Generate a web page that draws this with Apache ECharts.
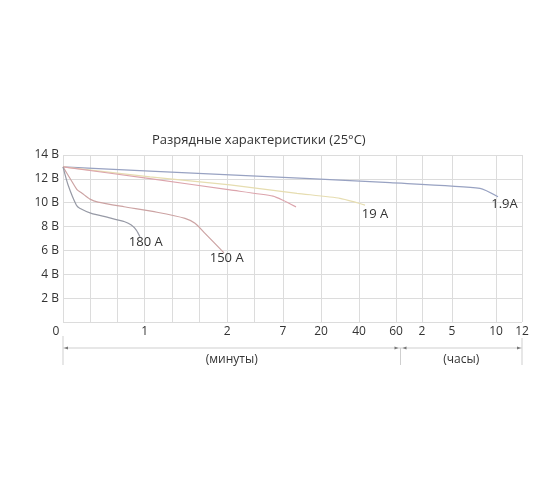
<!DOCTYPE html>
<html lang="ru" style="height: 100%">

<head>
  <meta charset="utf-8">
</head>

<body style="height: 100%; margin: 0; background: #fff">
  <div id="container" style="height: 100%"></div>
  <script type="text/javascript" src="https://fastly.jsdelivr.net/npm/echarts@6.0.0/dist/echarts.min.js"></script>
  <script type="text/javascript">
    // x axis is a hand-made scale: positions of the vertical grid lines and their labels
    const gridPos = [0, 27.3, 54.3, 81.7, 109.3, 136.7, 164.3, 191.5, 220, 258, 296, 333, 359, 389, 433, 459];
    const gridLabels = ['0', '', '', '1', '', '', '2', '', '7', '20', '40', '60', '2', '5', '10', '12'];
    const hoursStart = 337.5;   // where "(минуты)" ends and "(часы)" begins

    // discharge curves: [axis position, volts]
    const c19 = [[0, 13.0], [87, 12.64], [247, 12.02], [327, 11.68], [417, 11.21], [435, 10.5]];
    const c190 = [[0, 13.0], [87, 12.16], [167, 11.49], [234, 10.79], [277, 10.37], [294, 10.0], [302, 9.8]];
    const cMid = [[0, 13.0], [87, 12.02], [167, 11.07], [210, 10.55], [220, 10.2], [233, 9.65]];
    const c150 = [[0, 13.0], [8, 11.9], [14, 11.1], [19, 10.8], [27, 10.3], [35, 10.05], [61, 9.66], [94, 9.2],
      [122, 8.69], [132, 8.27], [142, 7.43], [161, 5.8]];
    const c180 = [[0, 13.0], [5, 11.5], [13.3, 9.8], [16.7, 9.53], [28.3, 9.11], [45, 8.77], [61.7, 8.4],
      [68.3, 8.13], [73.3, 7.71], [77, 7.14]];

    const curves = [c19, c190, cMid, c150, c180];
    const curveNames = ['1.9A', '19 A', '', '150 A', '180 A'];
    const curveColors = ['#98a2c2', '#e6ddb0', '#dca4ac', '#cca3a3', '#979aa6'];
    const labelAt = [[441.5, 9.89], [312, 9.05], null, [163.7, 5.33], [82.8, 6.66]];

    const font = '"Open Sans", "DejaVu Sans", sans-serif';
    const gridColor = '#dcdcdc';

    var dom = document.getElementById('container');
    var myChart = echarts.init(dom, null, { renderer: 'canvas' });

    const series = curves.map((data, i) => {
      const s = {
        name: curveNames[i] || 'c' + i,
        type: 'line',
        data: data,
        showSymbol: false,
        smooth: 0.2,
        z: 3,
        lineStyle: { color: curveColors[i], width: 1.2 },
        silent: true,
        animation: false
      };
      if (labelAt[i]) {
        s.markPoint = {
          symbol: 'circle',
          symbolSize: 1,
          itemStyle: { color: 'rgba(0,0,0,0)' },
          silent: true,
          animation: false,
          label: {
            show: true,
            position: 'inside',
            formatter: curveNames[i],
            color: '#333',
            fontSize: 13,
            fontFamily: font
          },
          data: [{ coord: labelAt[i] }]
        };
      }
      if (i === 0) {
        s.markLine = {
          symbol: ['none', 'none'],
          silent: true,
          animation: false,
          z: 1,
          label: { show: false },
          lineStyle: { color: gridColor, type: 'solid', width: 1 },
          data: gridPos.map(v => ({ xAxis: v }))
        };
      }
      return s;
    });

    var option = {
      backgroundColor: '#fff',
      title: {
        text: 'Разрядные характеристики (25°C)',
        left: 152,
        top: 134,
        padding: 0,
        textStyle: { fontFamily: font, fontSize: 13, fontWeight: 'normal', color: '#333' }
      },
      grid: { left: 63, right: 38, top: 155, bottom: 182 },
      xAxis: {
        type: 'value',
        min: 0,
        max: 459,
        axisLine: { show: false },
        axisTick: { show: false },
        splitLine: { show: false },
        axisLabel: {
          customValues: gridPos.filter((v, i) => gridLabels[i] !== ''),
          margin: 4,
          color: '#333',
          fontSize: 12,
          fontFamily: font,
          formatter: v => {
            const t = gridLabels[gridPos.indexOf(v)];
            return v === 0 ? '{z|' + t + '}' : t;
          },
          rich: { z: { padding: [0, 14, 4, 0], color: '#333', fontSize: 12, fontFamily: font } }
        }
      },
      yAxis: {
        type: 'value',
        min: 0,
        max: 14,
        interval: 2,
        axisLine: { show: false },
        axisTick: { show: false },
        splitLine: { lineStyle: { color: gridColor, width: 1 } },
        axisLabel: {
          margin: 4,
          color: '#333',
          fontSize: 12,
          fontFamily: font,
          formatter: v => (v === 0 ? '' : v + ' В')
        }
      },
      series
    };

    myChart.setOption(option);

    // bracket under the axis: "(минуты)" and "(часы)"
    function drawBrackets() {
      const x0 = myChart.convertToPixel({ xAxisIndex: 0 }, 0);
      const xm = myChart.convertToPixel({ xAxisIndex: 0 }, hoursStart);
      const x1 = myChart.convertToPixel({ xAxisIndex: 0 }, gridPos[gridPos.length - 1]);
      const yb = myChart.convertToPixel({ yAxisIndex: 0 }, 0) + 26;
      const lineStyle = { stroke: '#cfcfcf', lineWidth: 1 };
      const arrowStyle = { fill: '#777' };
      const arrow = (x, dir) => ({
        type: 'polygon',
        silent: true,
        shape: { points: [[x, yb], [x - dir * 4, yb - 1.5], [x - dir * 4, yb + 1.5]] },
        style: arrowStyle
      });
      myChart.setOption({
        graphic: [
          { type: 'line', silent: true, shape: { x1: x0, y1: yb, x2: x1, y2: yb }, style: lineStyle },
          { type: 'line', silent: true, shape: { x1: x0, y1: yb - 12, x2: x0, y2: yb + 17 }, style: lineStyle },
          { type: 'line', silent: true, shape: { x1: xm, y1: yb, x2: xm, y2: yb + 17 }, style: lineStyle },
          { type: 'line', silent: true, shape: { x1: x1, y1: yb - 10, x2: x1, y2: yb + 17 }, style: lineStyle },
          arrow(x0 + 1, -1), arrow(xm - 2, 1), arrow(xm + 2, -1), arrow(x1 - 1, 1),
          {
            type: 'text', silent: true,
            style: {
              text: '(минуты)', x: (x0 + xm) / 2, y: yb + 12, align: 'center', verticalAlign: 'middle',
              fill: '#333', fontSize: 12, fontFamily: font
            }
          },
          {
            type: 'text', silent: true,
            style: {
              text: '(часы)', x: (xm + x1) / 2, y: yb + 12, align: 'center', verticalAlign: 'middle',
              fill: '#333', fontSize: 12, fontFamily: font
            }
          }
        ]
      });
    }
    drawBrackets();

    window.addEventListener('resize', () => { myChart.resize(); drawBrackets(); });
  </script>
</body>

</html>
